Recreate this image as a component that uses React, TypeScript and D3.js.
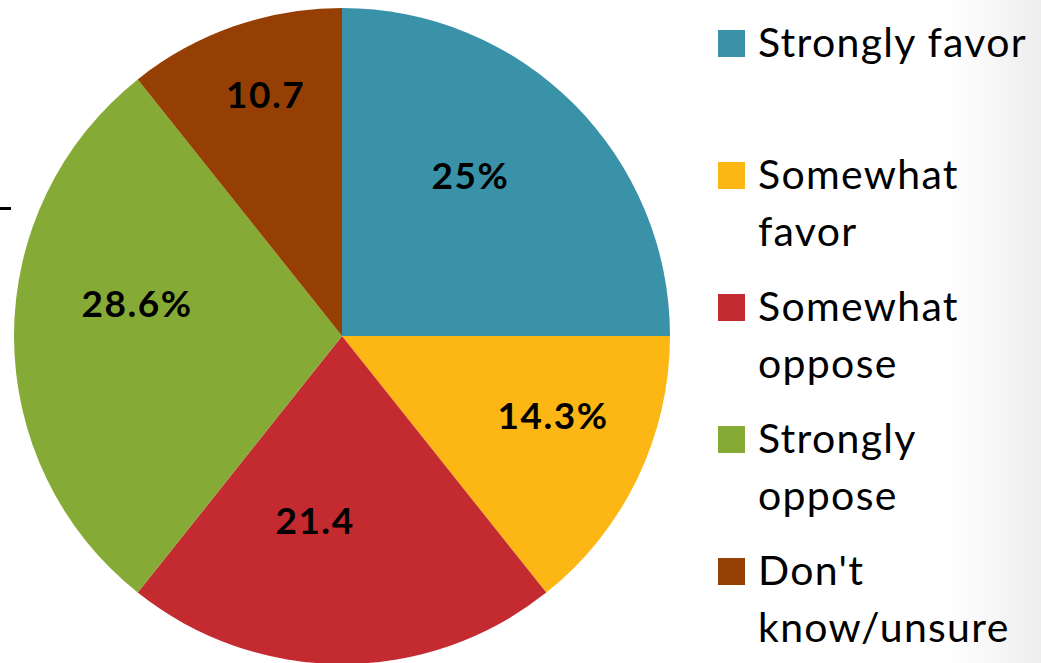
import { useEffect, useRef } from 'react';
import * as d3 from 'd3';

const categories = ['Strongly favor', 'Somewhat favor', 'Somewhat oppose', 'Strongly oppose', "Don't know/unsure"];
const values = [25, 14.3, 21.4, 28.6, 10.7];
const valueLabels = ['25%', '14.3%', '21.4', '28.6%', '10.7'];
const legendLines = [['Strongly favor'], ['Somewhat', 'favor'], ['Somewhat', 'oppose'], ['Strongly', 'oppose'], ["Don't", 'know/unsure']];
const colors = ['#3a92a9', '#fdb714', '#c42b30', '#86aa36', '#963f05'];

// small nudges so the value labels sit where the original placed them
const labelNudge: [number, number][] = [
  [-20, -12],
  [22, -11],
  [-27, -25],
  [5, -32],
  [7, -3],
];

const App = () => {
  const ref = useRef<SVGSVGElement | null>(null);
  const width = 1041;
  const height = 663;

  useEffect(() => {
    if (!ref.current) return;
    const svg = d3.select(ref.current);
    svg.selectAll('*').remove();

    const defs = svg.append('defs');
    const grad = defs
      .append('linearGradient')
      .attr('id', 'edge')
      .attr('x1', '0%')
      .attr('x2', '100%');
    grad.append('stop').attr('offset', '0%').attr('stop-color', '#ffffff');
    grad.append('stop').attr('offset', '100%').attr('stop-color', '#ededed');

    svg.append('rect').attr('width', width).attr('height', height).attr('fill', '#fff');
    svg.append('rect').attr('x', 950).attr('width', 91).attr('height', height).attr('fill', 'url(#edge)');

    // stray tick mark on the left edge
    svg.append('rect').attr('x', 0).attr('y', 207).attr('width', 11).attr('height', 3).attr('fill', '#000');

    const cx = 342;
    const cy = 336;
    const radius = 328;

    const pie = d3
      .pie<number>()
      .sort(null)
      .value((d) => d);
    const arcs = pie(values);
    const arc = d3.arc<d3.PieArcDatum<number>>().innerRadius(0).outerRadius(radius);
    const labelArc = d3
      .arc<d3.PieArcDatum<number>>()
      .innerRadius(radius * 0.64)
      .outerRadius(radius * 0.64);
    const labelArcOuter = d3
      .arc<d3.PieArcDatum<number>>()
      .innerRadius(radius * 0.77)
      .outerRadius(radius * 0.77);

    const g = svg.append('g').attr('transform', `translate(${cx},${cy})`);
    g.selectAll('path')
      .data(arcs)
      .enter()
      .append('path')
      .attr('d', arc)
      .attr('fill', (_, i) => colors[i]);

    g.selectAll('text')
      .data(arcs)
      .enter()
      .append('text')
      .attr('transform', (d, i) => {
        const small = d.endAngle - d.startAngle < 0.8;
        const [x, y] = small ? labelArcOuter.centroid(d) : labelArc.centroid(d);
        return `translate(${x + labelNudge[i][0]},${y + labelNudge[i][1]})`;
      })
      .attr('text-anchor', 'middle')
      .attr('dy', '0.36em')
      .attr('font-family', 'Lato, "Open Sans", sans-serif')
      .attr('font-weight', 'bold')
      .attr('font-size', 37)
      .attr('letter-spacing', 1.5)
      .attr('fill', '#000')
      .text((_, i) => valueLabels[i]);

    const legend = svg.append('g').attr('transform', 'translate(718,30)');
    const item = legend
      .selectAll('g')
      .data(categories)
      .enter()
      .append('g')
      .attr('transform', (_, i) => `translate(0,${i * 132})`);
    item
      .append('rect')
      .attr('width', 27)
      .attr('height', 27)
      .attr('fill', (_, i) => colors[i]);
    item.each(function (_, i) {
      const t = d3
        .select(this)
        .append('text')
        .attr('font-family', 'Lato, "Open Sans", sans-serif')
        .attr('font-size', 41)
        .attr('letter-spacing', 1.3)
        .attr('fill', '#000');
      legendLines[i].forEach((line, j) => {
        t.append('tspan')
          .attr('x', 40)
          .attr('y', 27 + j * 57)
          .text(line);
      });
    });
  }, []);

  return (
    <svg
      ref={ref}
      width={width}
      height={height}
      style={{ position: 'absolute', left: 0, top: 0 }}
      role="img"
      aria-label="Pie chart"
    />
  );
};

export default App;
